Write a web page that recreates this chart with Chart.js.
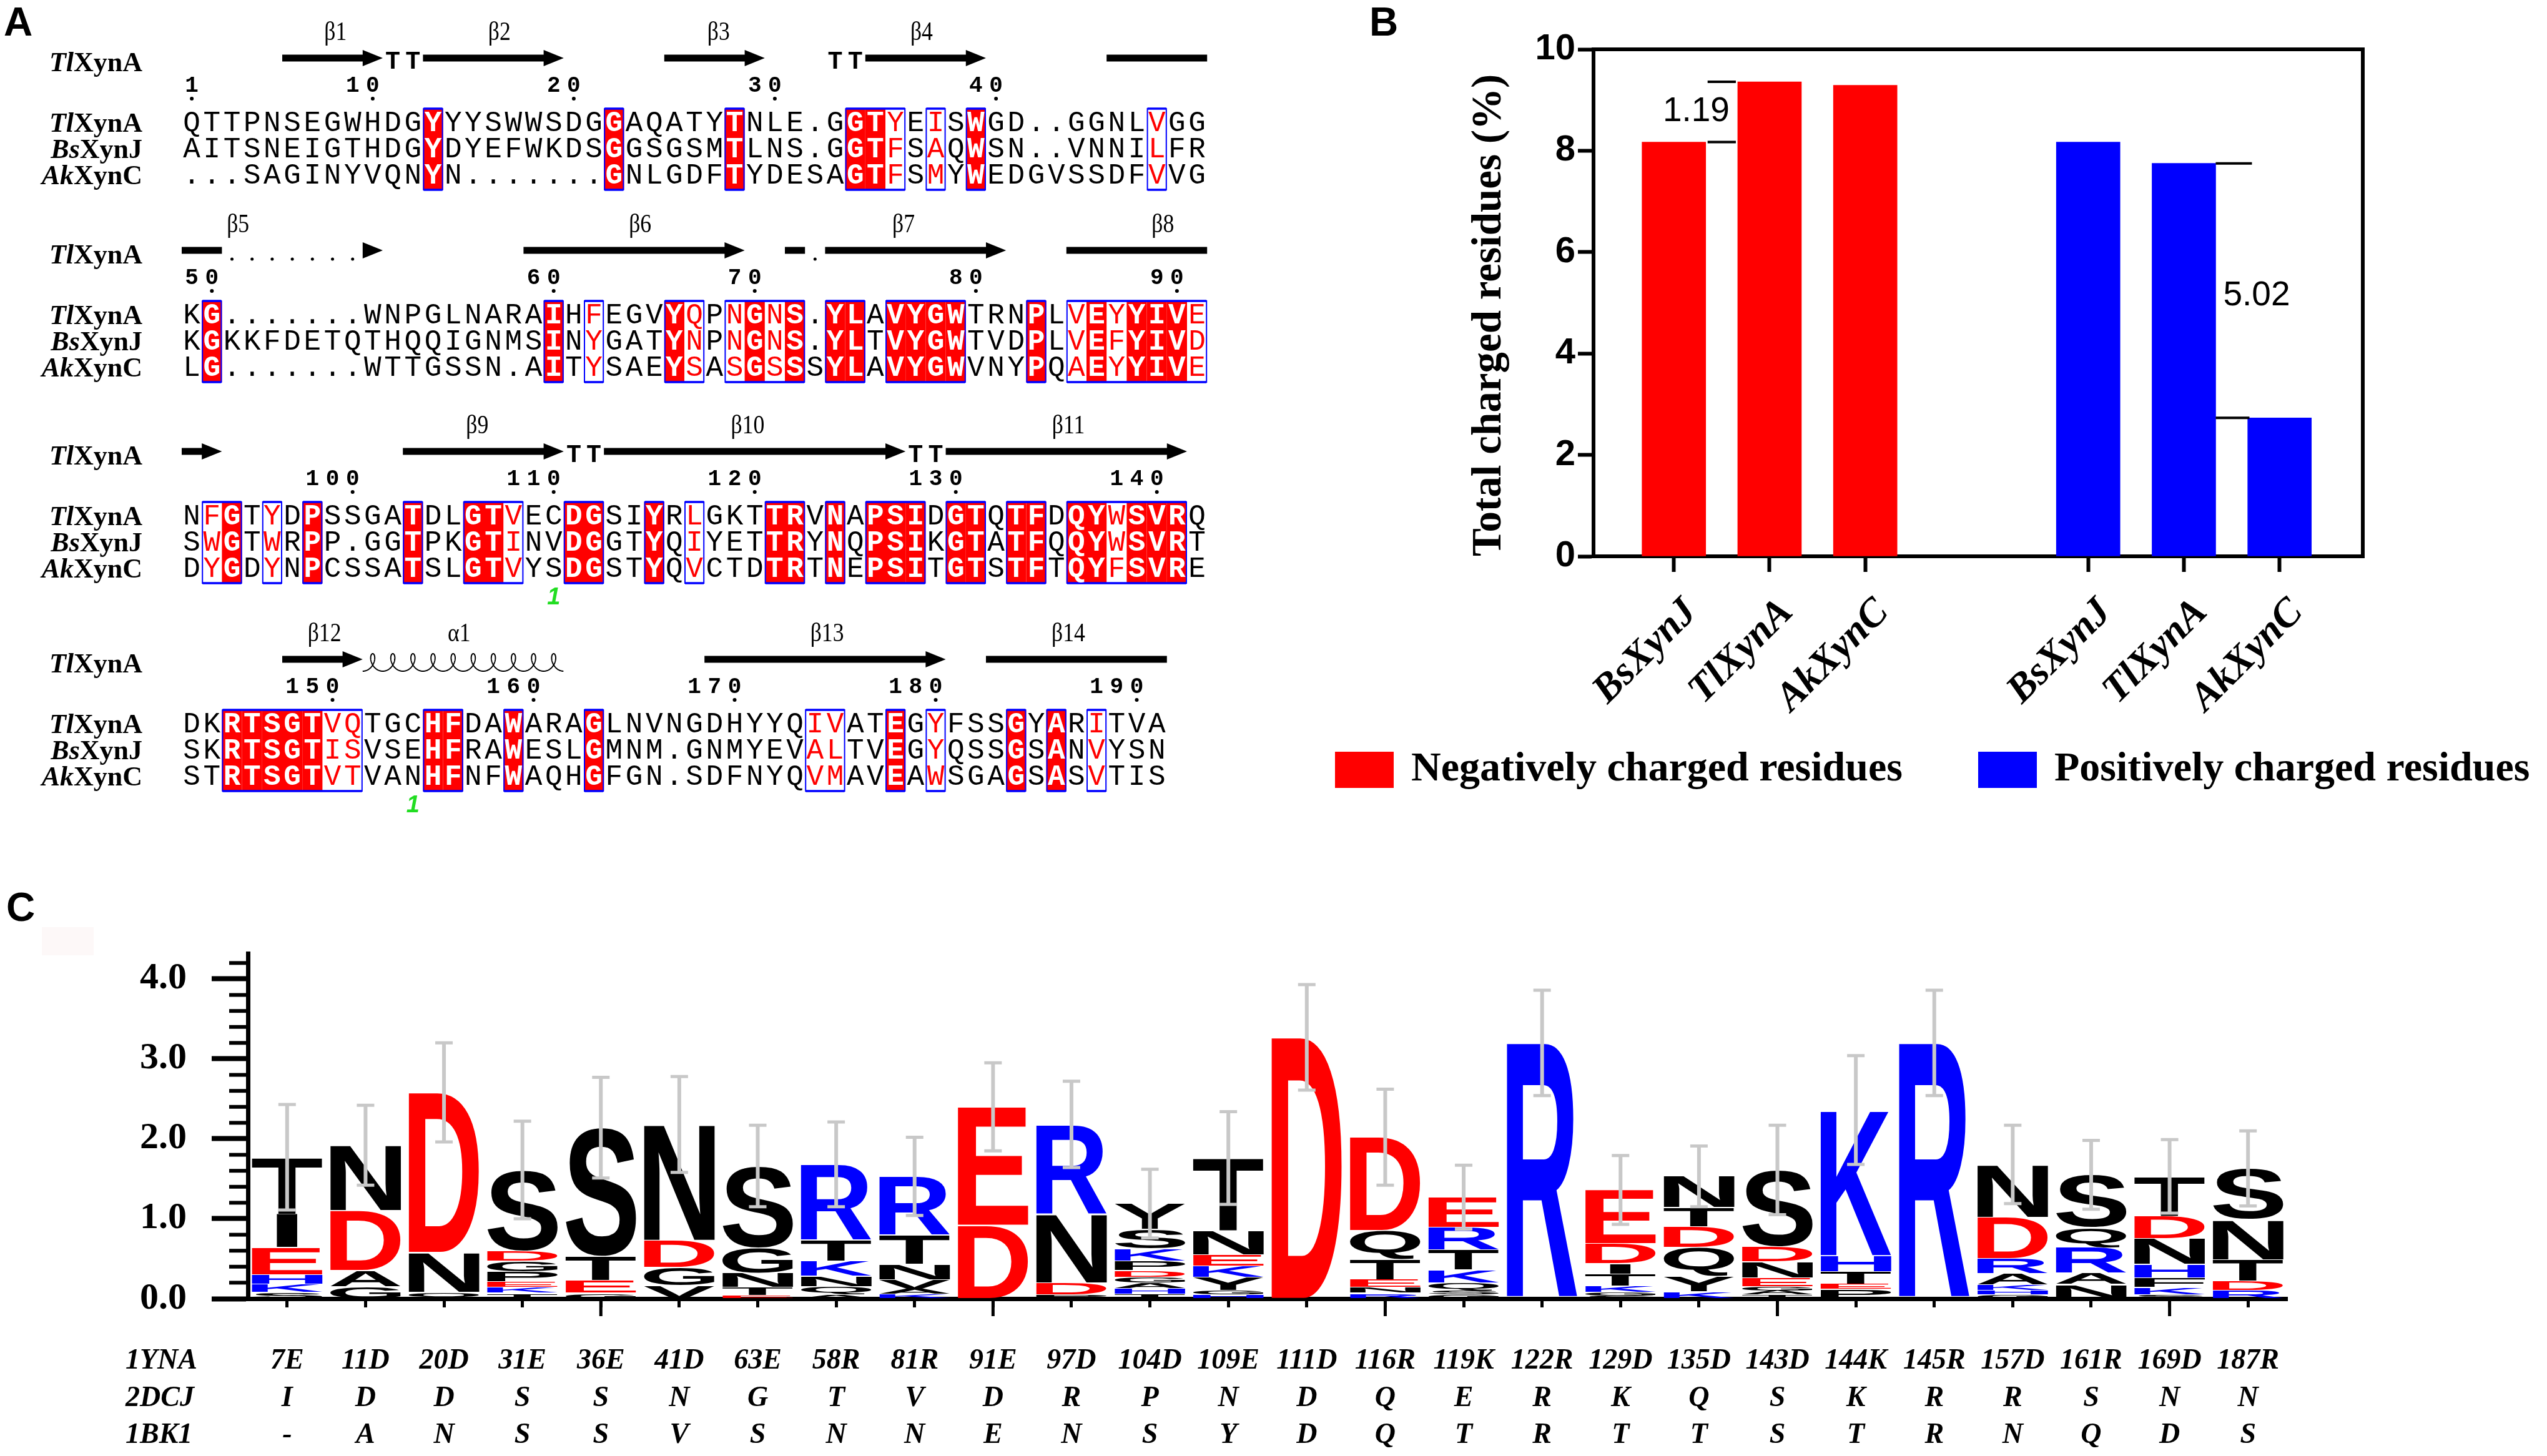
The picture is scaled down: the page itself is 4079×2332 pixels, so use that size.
<!DOCTYPE html>
<html><head><meta charset="utf-8">
<script src="https://cdn.jsdelivr.net/npm/chart.js@4.4.1/dist/chart.umd.min.js"></script>
<style>
html,body{margin:0;padding:0;background:#fff;}
#page{position:relative;width:4079px;height:2332px;background:#fff;overflow:hidden;}
canvas{position:absolute;}
#ghost{position:absolute;left:67px;top:1485px;width:83px;height:45px;background:#fdf8f8;}
</style></head>
<body><div id="page">
<div id="ghost"></div>
<canvas id="cA" width="1990" height="1330" style="left:0;top:0"></canvas>
<canvas id="cB" width="1979" height="1330" style="left:2100px;top:0"></canvas>
<canvas id="cC" width="4079" height="932" style="left:0;top:1400px"></canvas>
</div>
<script>
const SERIF = '"Liberation Serif", "Times New Roman", serif';
const SANS = '"Liberation Sans", Arial, sans-serif';
const MONO = '"Liberation Mono", "Courier New", monospace';
Chart.defaults.color = '#000';
Chart.defaults.font.family = SANS;

/* ---------------- Panel A data ---------------- */
const seqNames = ['TlXynA', 'BsXynJ', 'AkXynC'];
const alnBlock1 = ['QTTPNSEGWHDGYYYSWWSDGGAQATYTNLE.GGTYEISWGD..GGNLVGG',
                   'AITSNEIGTHDGYDYEFWKDSGGSGSMTLNS.GGTFSAQWSN..VNNILFR',
                   '...SAGINYVQNYN.......GNLGDFTYDESAGTFSMYWEDGVSSDFVVG'];
const alnBlock2 = ['KG.......WNPGLNARAIHFEGVYQPNGNS.YLAVYGWTRNPLVEYYIVE',
                   'KGKKFDETQTHQQIGNMSINYGATYNPNGNS.YLTVYGWTVDPLVEFYIVD',
                   'LG.......WTTGSSN.AITYSAEYSASGSSSYLAVYGWVNYPQAEYYIVE'];
const alnBlock3 = ['NFGTYDPSSGATDLGTVECDGSIYRLGKTTRVNAPSIDGTQTFDQYWSVRQ',
                   'SWGTWRPP.GGTPKGTINVDGGTYQIYETTRYNQPSIKGTATFQQYWSVRT',
                   'DYGDYNPCSSATSLGTVYSDGSTYQVCTDTRTNEPSITGTSTFTQYFSVRE'];
const alnBlock4 = ['DKRTSGTVQTGCHFDAWARAGLNVNGDHYYQIVATEGYFSSGYARITVA',
                   'SKRTSGTISVSEHFRAWESLGMNM.GNMYEVALTVEGYQSSGSANVYSN',
                   'STRTSGTVTVANHFNFWAQHGFGN.SDFNYQVMAVEAWSGAGSASVTIS'];
const simBlock1 = [36, 38, 49];
const simBlock2 = [21, 26, 28, 30, 45, 47, 51];
const simBlock3 = [2, 5, 17, 26, 47];
const simBlock4 = [8, 9, 32, 33, 38, 46];
const ssBlock1 = [
  {kind:'arrow', from:6, to:10, label:'β1', at:8.15},
  {kind:'turn', from:11, to:12},
  {kind:'arrow', from:13, to:19, label:'β2', at:16.3},
  {kind:'arrow', from:25, to:29, label:'β3', at:27.2},
  {kind:'turn', from:33, to:34},
  {kind:'arrow', from:35, to:40, label:'β4', at:37.3},
  {kind:'bar', from:47, to:51}];
const ssBlock2 = [
  {kind:'bar', from:1, to:2, label:'β5', at:3.3},
  {kind:'dots', from:3, to:9},
  {kind:'head', from:10, to:10},
  {kind:'arrow', from:18, to:28, label:'β6', at:23.3},
  {kind:'bar', from:31, to:31},
  {kind:'dots', from:32, to:32},
  {kind:'arrow', from:33, to:41, label:'β7', at:36.4},
  {kind:'bar', from:45, to:51, label:'β8', at:49.3}];
const ssBlock3 = [
  {kind:'arrow', from:1, to:2},
  {kind:'arrow', from:12, to:19, label:'β9', at:15.2},
  {kind:'turn', from:20, to:21},
  {kind:'arrow', from:22, to:36, label:'β10', at:28.65},
  {kind:'turn', from:37, to:38},
  {kind:'arrow', from:39, to:50, label:'β11', at:44.6}];
const ssBlock4 = [
  {kind:'arrow', from:6, to:9, label:'β12', at:7.6},
  {kind:'helix', from:10, to:19, label:'α1', at:14.3},
  {kind:'arrow', from:27, to:38, label:'β13', at:32.6},
  {kind:'bar', from:41, to:49, label:'β14', at:44.6}];
const cysBlock = [[], [], [19], [12]];

/* ---------------- Panel B data ---------------- */
const strainNames = ['BsXynJ', 'TlXynA', 'AkXynC'];
const negValues = [8.17, 9.36, 9.29];
const posValues = [8.17, 7.75, 2.73];
const seriesNames = ['Negatively charged residues', 'Positively charged residues'];

/* ---------------- Panel C data ---------------- */
const siteYNA = ['7E','11D','20D','31E','36E','41D','63E','58R','81R','91E','97D','104D','109E','111D','116R','119K','122R','129D','135D','143D','144K','145R','157D','161R','169D','187R'];
const site2DCJ = ['I','D','D','S','S','N','G','T','V','D','R','P','N','D','Q','E','R','K','Q','S','K','R','R','S','N','N'];
const site1BK1 = ['-','A','N','S','S','V','S','N','N','E','N','S','Y','D','Q','T','R','T','T','S','T','R','N','Q','D','S'];
const structNames = ['1YNA', '2DCJ', '1BK1'];
const logoLetters = ['SKHEIT','GADN','QND','TKEPGDS','GETS','VGDN','ETNGS','AQNKTR','KAVNTR','DE','PDNR','THAGDPKSY','HGYKENT','D','RNETQD','GSQKTRE','R','SGKTIDE','KYQDTN','TAGENDS','PETHK','R','GHKARDN','NARQS','SKFHNDT','RDTNS'];
const logoHeights = [
  [.08,.10,.12,.34,.42,.71],[.15,.20,.75,.82],[.08,.50,2.00],[.07,.07,.07,.13,.13,.13,1.01],
  [.07,.16,.30,1.61],[.16,.23,.34,1.45],[.04,.10,.18,.32,1.02],[.05,.10,.13,.19,.26,.95],
  [.06,.06,.12,.19,.36,.74],[.92,1.48],[.05,.15,.86,1.12],[.06,.07,.07,.07,.08,.12,.15,.25,.32],
  [.05,.05,.17,.14,.14,.30,.91],[3.27],[.07,.07,.10,.25,.36,1.17],[.05,.05,.10,.16,.25,.28,.38],
  [3.20],[.04,.04,.08,.15,.13,.25,.67],[.09,.19,.36,.26,.24,.39],[.05,.05,.05,.11,.20,.19,.96],
  [.12,.06,.16,.20,1.82],[3.20],[.05,.05,.07,.14,.19,.52,.66],[.18,.14,.32,.25,.66],
  [.05,.09,.12,.17,.32,.28,.50],[.10,.12,.27,.50,.64]];
const logoErr = [.66,.50,.62,.61,.63,.60,.51,.53,.49,.55,.54,.43,.58,.66,.60,.40,.66,.43,.38,.56,.68,.66,.49,.43,.46,.47];

/* ================= Panel A ================= */
const alnBlocks = [alnBlock1, alnBlock2, alnBlock3, alnBlock4];
const simBlocks = [simBlock1, simBlock2, simBlock3, simBlock4];
const ssBlocks = [ssBlock1, ssBlock2, ssBlock3, ssBlock4];
const blockTops = [174, 482, 804, 1137];

function drawName(ctx, name, xr, y) {
  const a = name.slice(0, 2), b = name.slice(2);
  ctx.font = `italic bold 44px ${SERIF}`;
  const w1 = ctx.measureText(a).width;
  ctx.font = `bold 44px ${SERIF}`;
  const w2 = ctx.measureText(b).width;
  ctx.textAlign = 'left';
  ctx.font = `italic bold 44px ${SERIF}`;
  ctx.fillText(a, xr - w1 - w2, y);
  ctx.font = `bold 44px ${SERIF}`;
  ctx.fillText(b, xr - w2, y);
}

const alnPlugin = {
  id: 'aln',
  afterDraw(chart) {
    const ctx = chart.ctx, xs = chart.scales.x, ys = chart.scales.y;
    const cl = c => xs.getPixelForValue(c - 0.5);
    const cc = c => xs.getPixelForValue(c);
    const cw = xs.getPixelForValue(1) - xs.getPixelForValue(0);
    ctx.save();
    ctx.fillStyle = '#000';
    ctx.font = `bold 64px ${SANS}`;
    ctx.textAlign = 'left'; ctx.textBaseline = 'alphabetic';
    ctx.fillText('A', 6, 57);
    let resNo = 0;
    alnBlocks.forEach((seqs, b) => {
      const T = ys.getPixelForValue(blockTops[b]);
      const H = 130;
      const rows = [T + 23, T + 65, T + 107];
      const n = seqs[0].length;
      const sim = new Set(simBlocks[b]);
      const ident = [];
      for (let c = 1; c <= n; c++) {
        const a = seqs[0][c - 1];
        ident[c] = a !== '.' && seqs.every(s => s[c - 1] === a);
      }
      const mark = c => ident[c] || sim.has(c);
      ctx.fillStyle = '#ff0000';
      for (let c = 1; c <= n; c++) if (ident[c]) ctx.fillRect(cl(c), T, cw, H);
      ctx.strokeStyle = '#0000ff';
      let c = 1;
      while (c <= n) {
        if (mark(c)) {
          let e = c;
          while (e + 1 <= n && mark(e + 1)) e++;
          const x0 = cl(c) + 1, x1 = cl(e + 1) - 1;
          ctx.lineWidth = 2;
          ctx.strokeRect(x0, T, x1 - x0, H);
          ctx.lineWidth = 3.5;
          ctx.beginPath();
          ctx.moveTo(x0, T); ctx.lineTo(x1, T);
          ctx.moveTo(x0, T + H); ctx.lineTo(x1, T + H);
          ctx.stroke();
          c = e + 1;
        } else c++;
      }
      ctx.textAlign = 'center'; ctx.textBaseline = 'alphabetic';
      seqs.forEach((s, r) => {
        for (let k = 1; k <= n; k++) {
          const ch = s[k - 1];
          if (ident[k]) { ctx.font = `bold 46px ${MONO}`; ctx.fillStyle = '#fff'; }
          else if (sim.has(k) && ch !== '.') { ctx.font = `46px ${MONO}`; ctx.fillStyle = '#ff0000'; }
          else { ctx.font = `46px ${MONO}`; ctx.fillStyle = '#000'; }
          ctx.fillText(ch, cc(k), rows[r] + 13);
        }
      });
      ctx.fillStyle = '#000';
      drawName(ctx, seqNames[0], 228, T - 60);
      rows.forEach((y, r) => drawName(ctx, seqNames[r], 228, y + 14));
      ctx.textAlign = 'center';
      ctx.font = `bold 36px ${MONO}`;
      for (let k = 1; k <= n; k++) {
        if (seqs[0][k - 1] === '.') continue;
        resNo++;
        if (resNo === 1 || resNo % 10 === 0) {
          const str = String(resNo);
          for (let d = 0; d < str.length; d++) {
            ctx.fillText(str[d], cc(k - str.length + 1 + d), T - 27);
          }
          ctx.beginPath(); ctx.arc(cc(k), T - 16, 3, 0, Math.PI * 2); ctx.fill();
        }
      }
      const yss = T - 81;
      ssBlocks[b].forEach(el => {
        ctx.fillStyle = '#000'; ctx.strokeStyle = '#000';
        if (el.kind === 'arrow' || el.kind === 'head') {
          if (el.to > el.from) ctx.fillRect(cl(el.from), yss - 5.5, cl(el.to) - cl(el.from) + 1, 11);
          ctx.beginPath();
          ctx.moveTo(cl(el.to), yss - 13);
          ctx.lineTo(cl(el.to) + cw, yss);
          ctx.lineTo(cl(el.to), yss + 13);
          ctx.closePath(); ctx.fill();
        } else if (el.kind === 'bar') {
          ctx.fillRect(cl(el.from), yss - 5.5, cl(el.to + 1) - cl(el.from), 11);
        } else if (el.kind === 'dots') {
          for (let k = el.from; k <= el.to; k++) {
            ctx.beginPath(); ctx.arc(cc(k), T - 67, 2.5, 0, Math.PI * 2); ctx.fill();
          }
        } else if (el.kind === 'turn') {
          ctx.font = `bold 40px ${MONO}`; ctx.textAlign = 'center';
          for (let k = el.from; k <= el.to; k++) ctx.fillText('T', cc(k), T - 64);
        } else if (el.kind === 'helix') {
          const x0 = cl(el.from), nl = el.to - el.from + 1, r = cw / (2 * Math.PI);
          ctx.lineWidth = 2;
          ctx.beginPath();
          for (let t = Math.PI; t <= Math.PI + 2 * Math.PI * nl + 0.001; t += 0.04) {
            const x = x0 + r * (t - Math.PI) - 10 * Math.sin(t);
            const y = T - 76 - 14 * Math.cos(t);
            if (t === Math.PI) ctx.moveTo(x, y); else ctx.lineTo(x, y);
          }
          ctx.stroke();
        }
        if (el.label) {
          ctx.save();
          ctx.translate(xs.getPixelForValue(el.at), T - 110);
          ctx.scale(0.85, 1);
          ctx.font = `42px ${SERIF}`; ctx.textAlign = 'center';
          ctx.fillText(el.label, 0, 0);
          ctx.restore();
        }
      });
      ctx.fillStyle = '#22dd22';
      ctx.font = `italic bold 38px ${SANS}`; ctx.textAlign = 'center';
      cysBlock[b].forEach(k => ctx.fillText('1', cc(k), T + 164));
    });
    ctx.restore();
  }
};

new Chart(document.getElementById('cA'), {
  type: 'scatter',
  data: { datasets: [] },
  options: {
    responsive: false, animation: false, devicePixelRatio: 1,
    layout: { padding: { left: 291, right: 1990 - (291 + 51 * 32.2), top: 0, bottom: 0 } },
    scales: {
      x: { type: 'linear', min: 0.5, max: 51.5, display: false },
      y: { type: 'linear', min: 0, max: 1330, reverse: true, display: false }
    },
    plugins: { legend: { display: false }, tooltip: { enabled: false } }
  },
  plugins: [alnPlugin]
});

/* ================= Panel B ================= */
const groupShift = 4.33;
const barDeco = {
  id: 'barDeco',
  afterDraw(chart) {
    const { ctx, chartArea: a, scales: { y } } = chart;
    ctx.save();
    ctx.strokeStyle = '#000'; ctx.lineWidth = 6;
    ctx.beginPath();
    ctx.moveTo(a.left - 3, a.top); ctx.lineTo(a.right, a.top); ctx.lineTo(a.right, a.bottom + 3);
    ctx.stroke();
    const m0 = chart.getDatasetMeta(0), m1 = chart.getDatasetMeta(1);
    const r0 = m0.data[0], r1 = m0.data[1];
    const x0 = r0.x + r0.width / 2 + 3, x1 = r1.x - r1.width / 2 - 3;
    const ya = y.getPixelForValue(negValues[1]), yb = y.getPixelForValue(negValues[0]);
    ctx.lineWidth = 4;
    ctx.beginPath(); ctx.moveTo(x0, ya); ctx.lineTo(x1, ya); ctx.moveTo(x0, yb); ctx.lineTo(x1, yb); ctx.stroke();
    ctx.fillStyle = '#000';
    ctx.font = `55px ${SANS}`; ctx.textAlign = 'right'; ctx.textBaseline = 'middle';
    ctx.fillText((negValues[1] - negValues[0]).toFixed(2), x1 - 10, (ya + yb) / 2);
    const b1 = m1.data[1];
    const bx0 = b1.x + b1.width / 2, bx1 = bx0 + 58;
    const yc = y.getPixelForValue(posValues[1]), yd = y.getPixelForValue(posValues[2]);
    ctx.beginPath(); ctx.moveTo(bx0, yc); ctx.lineTo(bx1, yc); ctx.moveTo(bx0, yd); ctx.lineTo(bx1 - 4, yd); ctx.stroke();
    ctx.textAlign = 'left';
    ctx.fillText((posValues[1] - posValues[2]).toFixed(2), bx0 + 12, (yc + yd) / 2 + 8);
    const boxX = [38, 1068];
    chart.data.datasets.forEach((ds, i) => {
      ctx.fillStyle = ds.backgroundColor;
      ctx.fillRect(boxX[i], 1204, 94, 58);
      ctx.fillStyle = '#000';
      ctx.font = `bold 66px ${SERIF}`; ctx.textAlign = 'left'; ctx.textBaseline = 'middle';
      ctx.fillText(ds.label, boxX[i] + 122, 1233);
    });
    ctx.font = `bold 64px ${SANS}`; ctx.textBaseline = 'alphabetic';
    ctx.fillText('B', 93, 57);
    ctx.restore();
  }
};

new Chart(document.getElementById('cB'), {
  type: 'bar',
  data: {
    datasets: [
      { label: seriesNames[0], data: negValues.map((v, i) => ({ x: i + 1, y: v })), backgroundColor: '#ff0000', barThickness: 102, grouped: false },
      { label: seriesNames[1], data: posValues.map((v, i) => ({ x: i + 1 + groupShift, y: v })), backgroundColor: '#0000ff', barThickness: 102, grouped: false }
    ]
  },
  options: {
    responsive: false, animation: false, devicePixelRatio: 1,
    layout: { padding: { left: 245, right: 295, top: 79, bottom: 0 } },
    scales: {
      x: {
        type: 'linear', min: 0.16, max: 8.2, offset: false,
        afterBuildTicks: s => { s.ticks = [1, 2, 3, 1 + groupShift, 2 + groupShift, 3 + groupShift].map(v => ({ value: v })); },
        afterFit: s => { s.height = 439; },
        grid: { drawOnChartArea: false, drawTicks: true, tickLength: 25, tickWidth: 6, tickColor: '#000', offset: false },
        border: { display: true, width: 6, color: '#000' },
        ticks: {
          autoSkip: false, minRotation: 45, maxRotation: 45, padding: 28, labelOffset: 28,
          callback: (v, i) => strainNames[i % 3],
          font: { family: SERIF, style: 'italic', weight: 'bold', size: 64 }, color: '#000'
        }
      },
      y: {
        min: 0, max: 10,
        afterFit: s => { s.width = 207; },
        ticks: { stepSize: 2, padding: 4, font: { family: SANS, weight: 'bold', size: 58 }, color: '#000' },
        grid: { drawOnChartArea: false, drawTicks: true, tickLength: 25, tickWidth: 6, tickColor: '#000' },
        border: { display: true, width: 6, color: '#000' },
        title: { display: true, text: 'Total charged residues (%)', align: 'start', font: { family: SERIF, weight: 'bold', size: 67 }, padding: 0, color: '#000' }
      }
    },
    plugins: { legend: { display: false }, tooltip: { enabled: false } }
  },
  plugins: [barDeco]
});

/* ================= Panel C ================= */
function letterColor(ch) {
  if (ch === 'D' || ch === 'E') return '#ff0000';
  if (ch === 'K' || ch === 'R' || ch === 'H') return '#0000ff';
  return '#000000';
}
function drawGlyph(ctx, ch, x, y, w, h, color) {
  ctx.save();
  ctx.font = `bold 200px ${SANS}`;
  ctx.textAlign = 'left'; ctx.textBaseline = 'alphabetic';
  const m = ctx.measureText(ch);
  const iw = m.actualBoundingBoxLeft + m.actualBoundingBoxRight;
  const ih = m.actualBoundingBoxAscent + m.actualBoundingBoxDescent;
  const ww = ch === 'I' ? w * 0.3 : w;
  ctx.translate(x + (w - ww) / 2, y);
  ctx.scale(ww / iw, h / ih);
  ctx.fillStyle = color;
  ctx.fillText(ch, m.actualBoundingBoxLeft, m.actualBoundingBoxAscent);
  ctx.restore();
}
const maxLevels = Math.max(...logoLetters.map(s => s.length));
const logoDatasets = [];
for (let k = 0; k < maxLevels; k++) {
  logoDatasets.push({
    data: logoHeights.map(h => h[k] || 0),
    backgroundColor: 'rgba(0,0,0,0)', borderWidth: 0,
    barPercentage: 0.9, categoryPercentage: 1.0
  });
}
const TICK_FONT_C = { family: SERIF, style: 'italic', weight: 'bold', size: 46, lineHeight: 1.3 };
const logoPlugin = {
  id: 'logo',
  afterDatasetsDraw(chart) {
    const ctx = chart.ctx, ys = chart.scales.y;
    ctx.save();
    chart.data.datasets.forEach((ds, k) => {
      const meta = chart.getDatasetMeta(k);
      meta.data.forEach((el, i) => {
        const ch = logoLetters[i][k];
        if (!ch) return;
        const top = Math.min(el.y, el.base), bot = Math.max(el.y, el.base);
        const h = bot - top;
        if (h < 1) return;
        const gap = h > 8 ? 1.5 : 0.4;
        drawGlyph(ctx, ch, el.x - el.width / 2, top + gap / 2, el.width, h - gap, letterColor(ch));
      });
    });
    ctx.strokeStyle = '#c8c8c8';
    const meta0 = chart.getDatasetMeta(0);
    logoHeights.forEach((hs, i) => {
      const tot = hs.reduce((s, v) => s + v, 0);
      const x = meta0.data[i].x;
      const yt = ys.getPixelForValue(tot + logoErr[i]), yb = ys.getPixelForValue(tot - logoErr[i]);
      ctx.lineWidth = 6;
      ctx.beginPath(); ctx.moveTo(x, yt); ctx.lineTo(x, yb); ctx.stroke();
      ctx.lineWidth = 5;
      ctx.beginPath(); ctx.moveTo(x - 14, yt); ctx.lineTo(x + 14, yt); ctx.moveTo(x - 14, yb); ctx.lineTo(x + 14, yb); ctx.stroke();
    });
    ctx.restore();
  },
  afterDraw(chart) {
    const { ctx, chartArea: a, scales: { x, y } } = chart;
    ctx.save();
    ctx.strokeStyle = '#000';
    ctx.lineWidth = 6;
    for (let v = 0.2; v < 4.3; v += 0.2) {
      const vv = Math.round(v * 10) / 10;
      if (Math.abs(vv - Math.round(vv)) < 1e-6) continue;
      const py = y.getPixelForValue(vv);
      ctx.beginPath(); ctx.moveTo(a.left - 30, py); ctx.lineTo(a.left, py); ctx.stroke();
    }
    ctx.lineWidth = 5;
    for (let i = 4; i < siteYNA.length; i += 5) {
      const px = x.getPixelForTick(i);
      ctx.beginPath(); ctx.moveTo(px, a.bottom); ctx.lineTo(px, a.bottom + 28); ctx.stroke();
    }
    ctx.fillStyle = '#000';
    ctx.font = `italic bold 46px ${SERIF}`; ctx.textAlign = 'left'; ctx.textBaseline = 'middle';
    const lh = 46 * 1.3;
    structNames.forEach((s, r) => ctx.fillText(s, 201, a.bottom + 14 + 56 + lh * (r + 0.5)));
    ctx.font = `bold 64px ${SANS}`; ctx.textBaseline = 'alphabetic';
    ctx.fillText('C', 10, 75);
    ctx.restore();
  }
};

new Chart(document.getElementById('cC'), {
  type: 'bar',
  data: {
    labels: siteYNA.map((s, i) => [s, site2DCJ[i], site1BK1[i]]),
    datasets: logoDatasets
  },
  options: {
    responsive: false, animation: false, devicePixelRatio: 1,
    layout: { padding: { left: 150, right: 416, top: 127, bottom: 0 } },
    scales: {
      x: {
        type: 'category', stacked: true, offset: true,
        afterFit: s => { s.height = 252; },
        grid: { drawOnChartArea: false, drawTicks: true, tickLength: 14, tickWidth: 5, tickColor: '#000', offset: false },
        border: { display: true, width: 7, color: '#000' },
        ticks: { autoSkip: false, maxRotation: 0, minRotation: 0, padding: 56, font: TICK_FONT_C, color: '#000' }
      },
      y: {
        type: 'linear', stacked: true, min: 0, max: 4.32,
        afterFit: s => { s.width = 247; },
        ticks: { stepSize: 1, includeBounds: false, padding: 40, callback: v => Number(v).toFixed(1), font: { family: SERIF, weight: 'bold', size: 60 }, color: '#000' },
        grid: { drawOnChartArea: false, drawTicks: true, tickLength: 58, tickWidth: 8, tickColor: '#000' },
        border: { display: true, width: 7, color: '#000' }
      }
    },
    plugins: { legend: { display: false }, tooltip: { enabled: false } }
  },
  plugins: [logoPlugin]
});
</script>
</body></html>
